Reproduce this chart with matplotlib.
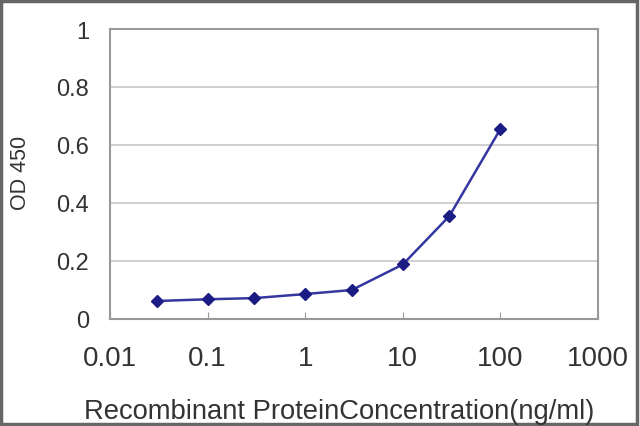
import matplotlib.pyplot as plt
from matplotlib.patches import Rectangle

conc = [0.03, 0.1, 0.3, 1, 3, 10, 30, 100]
od450 = [0.062, 0.068, 0.072, 0.086, 0.100, 0.188, 0.355, 0.655]
xticks = [0.01, 0.1, 1, 10, 100, 1000]
xtick_labels = ["0.01", "0.1", "1", "10", "100", "1000"]
yticks = [0, 0.2, 0.4, 0.6, 0.8, 1]
ytick_labels = ["0", "0.2", "0.4", "0.6", "0.8", "1"]

plt.rcParams['font.family'] = ['Liberation Sans', 'DejaVu Sans']

fig = plt.figure(figsize=(6.4, 4.27), dpi=100)
ax = fig.add_axes([110 / 640, 1 - 320 / 427, 488 / 640, 290 / 427])

ax.plot(conc, od450, color='#3636a0', lw=1.8, marker='D', ms=6.5,
        mfc='#1c1c85', mec='#1c1c85', zorder=3)

ax.set_xscale('log')
ax.set_xlim(0.01, 1000)
ax.set_ylim(0, 1)
ax.set_xticks(xticks)
ax.set_xticklabels(xtick_labels, fontsize=20, color='#333333')
ax.minorticks_off()
ax.set_yticks(yticks)
ax.set_yticklabels(ytick_labels, fontsize=17, color='#333333')

ax.tick_params(axis='x', direction='in', length=5, color='#999999', pad=19)
ax.tick_params(axis='y', length=0, pad=15)
ax.yaxis.grid(True, color='#c8c8c8', lw=1.2)
ax.set_axisbelow(True)
for s in ax.spines.values():
    s.set_color('#999999')
    s.set_linewidth(1.5)

fig.text(339 / 640, 1 - 412 / 427, "Recombinant ProteinConcentration(ng/ml)",
         fontsize=19.7, color='#333333', ha='center', va='center')
fig.text(20 / 640, 1 - 173 / 427, "OD 450", fontsize=15.5, color='#333333',
         rotation=90, ha='center', va='center')

fig.patches.append(Rectangle((0.002, 0.004), 0.994, 0.992, transform=fig.transFigure,
                             fill=False, ec='#666666', lw=2.5))

fig.savefig("out.png", dpi=100)
